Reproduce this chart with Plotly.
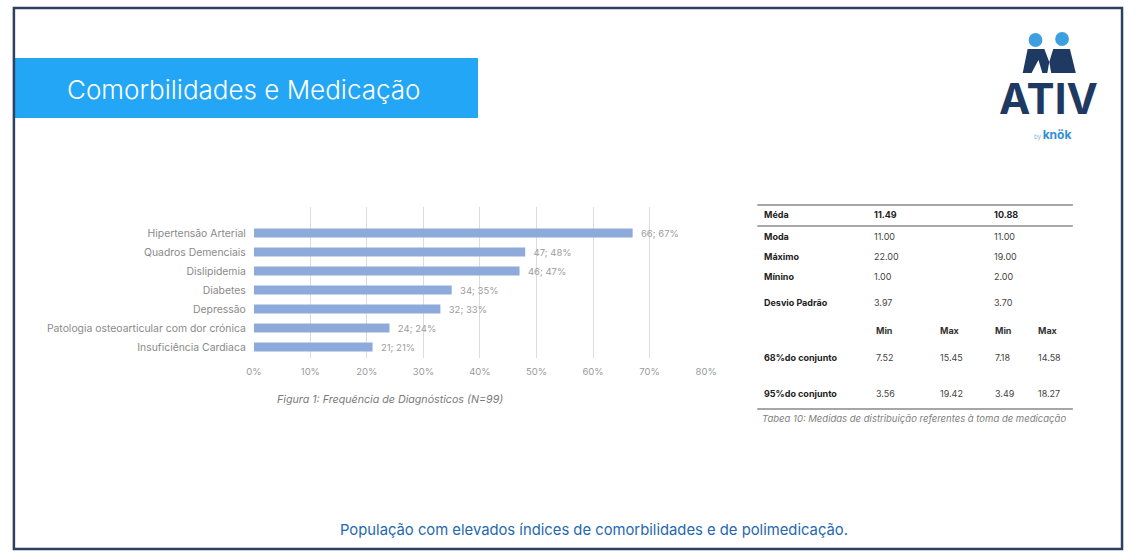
import plotly.graph_objects as go

W, H = 1135, 554

# ---- data ----
categories = ["Hipertensão Arterial", "Quadros Demenciais", "Dislipidemia", "Diabetes",
              "Depressão", "Patologia osteoarticular com dor crónica", "Insuficiência Cardiaca"]
counts = [66, 47, 46, 34, 32, 24, 21]
percents = [67, 48, 47, 35, 33, 24, 21]

x_ticks = [0, 10, 20, 30, 40, 50, 60, 70, 80]

row_labels = ["Méda", "Moda", "Máximo", "Mínino", "Desvio Padrão"]
col_a = ["11.49", "11.00", "22.00", "1.00", "3.97"]
col_b = ["10.88", "11.00", "19.00", "2.00", "3.70"]
interval_header = ["Min", "Max", "Min", "Max"]
interval_labels = ["68%do conjunto", "95%do conjunto"]
interval_values = [["7.52", "15.45", "7.18", "14.58"],
                   ["3.56", "19.42", "3.49", "18.27"]]


def px(x):
    return x / W


def py(y):
    return 1 - y / H


FONT = "Inter"
fig = go.Figure()

labels = [f"  {c}; {p}%" for c, p in zip(counts, percents)]
fig.add_trace(go.Bar(
    y=categories, x=percents, orientation="h",
    marker=dict(color="#8eaadb", line=dict(width=0)),
    width=0.48,
    text=labels, textposition="outside", cliponaxis=False, constraintext="none",
    textfont=dict(family=FONT, size=9.5, color="#9c9c9c"),
    hoverinfo="skip",
))

# y range: index 0 at pixel 233, step 19 px; domain pixels 207..358
top_px, bot_px = 207, 358
r_top = (top_px - 233) / 19
r_bot = (bot_px - 233) / 19

fig.update_layout(
    width=W, height=H, autosize=False,
    margin=dict(l=0, r=0, t=0, b=0),
    paper_bgcolor="white", plot_bgcolor="white",
    showlegend=False,
    bargap=0.5,
    xaxis=dict(
        domain=[px(250), px(710)], range=[0, 80],
        tickvals=x_ticks, ticktext=[f"{t}%" for t in x_ticks],
        showgrid=True, gridcolor="#dcdcdc", gridwidth=1,
        zeroline=False, showline=False,
        tickfont=dict(family=FONT, size=9.5, color="#9a9a9a"),
        ticks="", ticklabelstandoff=6,
        fixedrange=True,
    ),
    yaxis=dict(
        domain=[py(bot_px), py(top_px)],
        categoryorder="array", categoryarray=categories,
        range=[r_bot, r_top],
        showgrid=False, zeroline=False, showline=False,
        tickfont=dict(family=FONT, size=10.4, color="#8a8a8a"),
        ticks="", ticklabelstandoff=7,
        fixedrange=True,
    ),
)

shapes = []
annotations = []

# outer border
shapes.append(dict(type="rect", xref="paper", yref="paper",
                   x0=px(6), x1=px(1133), y0=py(549), y1=py(8),
                   line=dict(color="#2d4060", width=2.5), fillcolor="rgba(0,0,0,0)"))
# title banner
shapes.append(dict(type="rect", xref="paper", yref="paper",
                   x0=px(7), x1=px(478), y0=py(118), y1=py(58),
                   line=dict(width=0), fillcolor="#23a6f5", layer="below"))
annotations.append(dict(text="Comorbilidades e Medicação", xref="paper", yref="paper",
                        x=px(58), y=py(89), xanchor="left", yanchor="middle", showarrow=False,
                        font=dict(family=FONT, size=26, color="white", weight=300)))

# logo: heads and bodies
for cx, cy in ((1045, 40), (1072, 39)):
    shapes.append(dict(type="circle", xref="paper", yref="paper",
                       x0=px(cx - 7), x1=px(cx + 7), y0=py(cy + 7), y1=py(cy - 7),
                       line=dict(width=0), fillcolor="#3d9fe0"))
body_left = (f"M {px(1032)},{py(73)} L {px(1037)},{py(49)} L {px(1054)},{py(49)} "
             f"L {px(1059)},{py(62)} L {px(1057)},{py(73)} L {px(1052)},{py(73)} L {px(1048)},{py(60)} "
             f"L {px(1041)},{py(73)} Z")
body_right = (f"M {px(1059)},{py(62)} L {px(1063)},{py(49)} L {px(1080)},{py(49)} "
              f"L {px(1086)},{py(73)} L {px(1061)},{py(73)} Z")
for pth in (body_left, body_right):
    shapes.append(dict(type="path", xref="paper", yref="paper", path=pth,
                       line=dict(width=0), fillcolor="#1e3a63"))
annotations.append(dict(text="<b>ATIV</b>", xref="paper", yref="paper",
                        x=px(1058), y=py(99), xanchor="center", yanchor="middle", showarrow=False,
                        font=dict(family=FONT, size=42, color="#1e3a63")))
annotations.append(dict(text="<span style='font-size:6px;color:#7fb6e6'>by </span><b>knök</b>",
                        xref="paper", yref="paper",
                        x=px(1083), y=py(134), xanchor="right", yanchor="middle", showarrow=False,
                        font=dict(family=FONT, size=12, color="#2f8fd8")))

# figure caption
annotations.append(dict(text="<i>Figura 1: Frequência de Diagnósticos (N=99)</i>", xref="paper", yref="paper",
                        x=px(272), y=py(399), xanchor="left", yanchor="middle", showarrow=False,
                        font=dict(family=FONT, size=10.7, color="#7a7a7a")))

# ---- table ----
rule_col = "#a6a6a6"
shapes.append(dict(type="line", xref="paper", yref="paper", x0=px(762), x1=px(1083),
                   y0=py(205), y1=py(205), line=dict(color=rule_col, width=2)))
shapes.append(dict(type="line", xref="paper", yref="paper", x0=px(762), x1=px(1083),
                   y0=py(226), y1=py(226), line=dict(color="#555555", width=1)))
shapes.append(dict(type="line", xref="paper", yref="paper", x0=px(762), x1=px(1083),
                   y0=py(409), y1=py(409), line=dict(color=rule_col, width=2)))

row_y = [215, 236, 256, 276, 302]
lab_x = 767
ca_x, cb_x = 879, 1001
col_xs = [881, 946, 1002, 1046]


def txt(s, x, y, size=9, color="#333333", bold=False):
    annotations.append(dict(text=f"<b>{s}</b>" if bold else s, xref="paper", yref="paper",
                            x=px(x), y=py(y), xanchor="left", yanchor="middle", showarrow=False,
                            font=dict(family=FONT, size=size, color=color)))


for i, (lab, a, b) in enumerate(zip(row_labels, col_a, col_b)):
    txt(lab, lab_x, row_y[i], bold=True, color="#222222")
    txt(a, ca_x, row_y[i], bold=(i == 0), color="#222222" if i == 0 else "#444444")
    txt(b, cb_x, row_y[i], bold=(i == 0), color="#222222" if i == 0 else "#444444")

for h, x in zip(interval_header, col_xs):
    txt(h, x, 330, bold=True, color="#333333")

for lab, vals, y in zip(interval_labels, interval_values, [357, 393]):
    txt(lab, lab_x, y, bold=True, color="#222222")
    for v, x in zip(vals, col_xs):
        txt(v, x, y, color="#444444")

annotations.append(dict(text="<i>Tabea 10: Medidas de distribuição referentes à toma de medicação</i>",
                        xref="paper", yref="paper", x=px(765), y=py(418), xanchor="left", yanchor="middle",
                        showarrow=False, font=dict(family=FONT, size=9.5, color="#808080")))

# bottom message
annotations.append(dict(text="População com elevados índices de comorbilidades e de polimedicação.",
                        xref="paper", yref="paper", x=px(596), y=py(530), xanchor="center", yanchor="middle",
                        showarrow=False, font=dict(family=FONT, size=14.8, color="#2368b0")))

fig.update_layout(shapes=shapes, annotations=annotations)
fig.write_html(
    "out.html",
    config={"responsive": False, "displayModeBar": False},
    post_script="document.body.style.margin='0';document.body.style.padding='0';"
                "document.body.style.overflow='hidden';"
                "document.documentElement.style.overflow='hidden';",
)
